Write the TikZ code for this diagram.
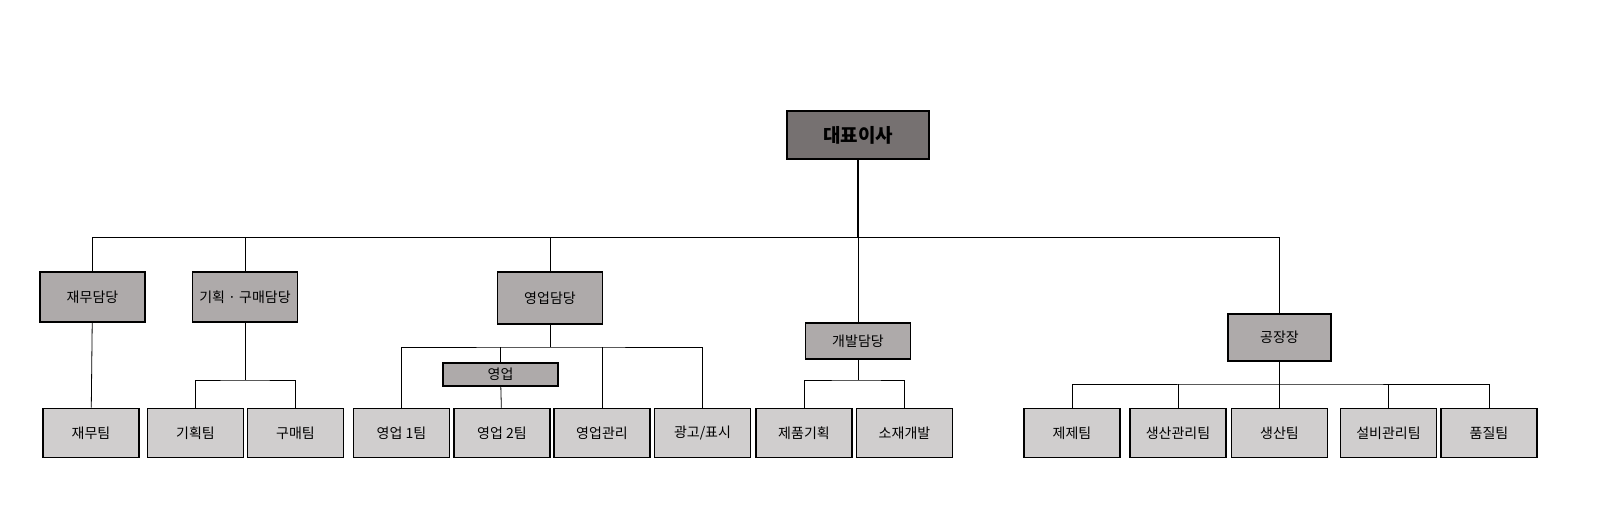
\documentclass[tikz,border=0pt]{standalone}
\usepackage{fontspec}
\setmainfont{Noto Sans CJK KR}
\usetikzlibrary{positioning}
\definecolor{ceogray}{HTML}{767171}
\definecolor{midgray}{HTML}{AEAAAA}
\definecolor{lowgray}{HTML}{D0CECE}
\tikzset{
  box/.style={draw,thick,fill=midgray,minimum width=52.5pt,minimum height=25pt,inner sep=0pt,font=\fontsize{7}{8}\selectfont},
  team/.style={draw,thick,fill=lowgray,minimum width=48pt,minimum height=24.5pt,inner sep=0pt,font=\fontsize{7}{8}\selectfont},
  link/.style={draw,thin}
}
\begin{document}
\begin{tikzpicture}[x=0.5pt,y=-0.5pt]
  \useasboundingbox (0,0) rectangle (1603,529);
  % top
  \node[box,fill=ceogray,minimum width=71pt,minimum height=24pt,font=\fontsize{9.5}{11}\selectfont\bfseries] (ceo) at (858,135) {대표이사};
  % managers
  \node[box] (fin) at (92.5,297) {재무담당};
  \node[box] (plan) at (245,297) {기획 · 구매담당};
  \node[box,minimum height=26pt] (sales) at (550,298) {영업담당};
  \node[box,minimum height=18pt] (dev) at (858,341) {개발담당};
  \node[box,minimum width=51.5pt,minimum height=23.5pt] (fact) at (1279.5,337.5) {공장장};
  \node[box,minimum width=57.5pt,minimum height=11.5pt] (sub) at (500.5,374.5) {영업};
  % teams
  \node[team] (t1) at (91,433) {재무팀};
  \node[team] (t2) at (195.5,433) {기획팀};
  \node[team] (t3) at (295.5,433) {구매팀};
  \node[team] (t4) at (401.5,433) {영업 1팀};
  \node[team] (t5) at (502,433) {영업 2팀};
  \node[team] (t6) at (602,433) {영업관리};
  \node[team] (t7) at (702.5,433) {광고/표시};
  \node[team] (t8) at (804,433) {제품기획};
  \node[team] (t9) at (904.5,433) {소재개발};
  \node[team] (t10) at (1072,433) {제제팀};
  \node[team] (t11) at (1178,433) {생산관리팀};
  \node[team] (t12) at (1279.5,433) {생산팀};
  \node[team] (t13) at (1388.5,433) {설비관리팀};
  \node[team] (t14) at (1489,433) {품질팀};
  % buses
  \coordinate (hub) at (858,237);
  \draw[thick] (ceo.south) -- (hub);
  \draw[link] (fin.north) |- (hub);
  \draw[link] (plan.north) -- (plan.north |- hub);
  \draw[link] (sales.north) -- (sales.north |- hub);
  \draw[link] (dev.north) -- (hub);
  \draw[link] (fact.north) |- (hub);
  \draw[link] (fin) -- (t1);
  \coordinate (pbus) at (245,380);
  \draw[link] (plan) -- (pbus);
  \draw[link] (t2.north) |- (pbus) -| (t3.north);
  \coordinate (sbus) at (550,347);
  \draw[link] (sales) -- (sbus);
  \draw[link] (t4.north) |- (sbus) -| (t7.north);
  \draw[link] (sub.north) -- (sub.north |- sbus);
  \draw[link] (t6.north) -- (t6.north |- sbus);
  \draw[link] (sub) -- (t5);
  \coordinate (dbus) at (858,380);
  \draw[link] (dev) -- (dbus);
  \draw[link] (t8.north) |- (dbus) -| (t9.north);
  \coordinate (fbus) at (1279.5,384);
  \draw[link] (fact) -- (t12);
  \draw[link] (t10.north) |- (fbus) -| (t14.north);
  \draw[link] (t11.north) -- (t11.north |- fbus);
  \draw[link] (t13.north) -- (t13.north |- fbus);
\end{tikzpicture}
\end{document}
